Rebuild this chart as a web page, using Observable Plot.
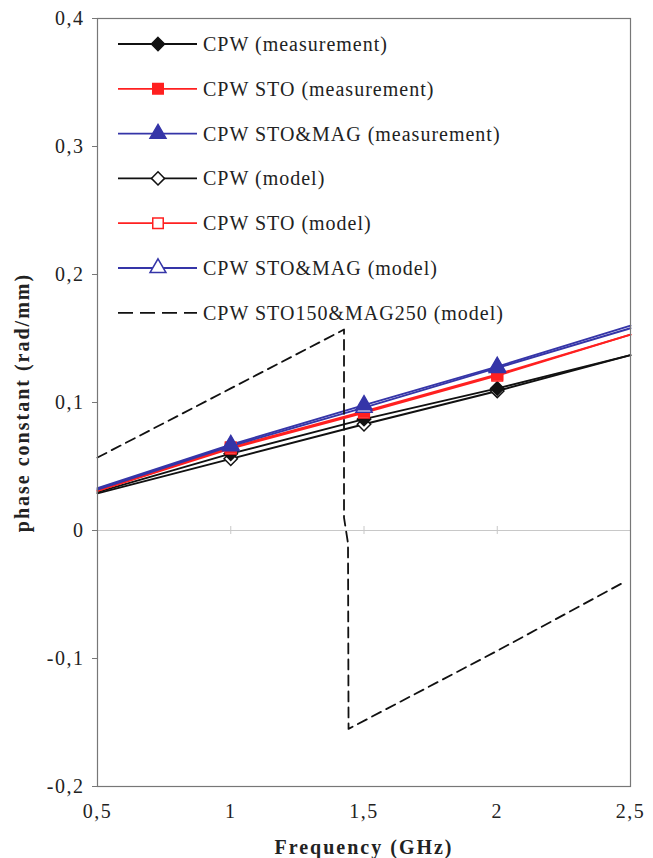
<!DOCTYPE html>
<html>
<head>
<meta charset="utf-8">
<script src="https://cdn.jsdelivr.net/npm/d3@7"></script>
<script src="https://cdn.jsdelivr.net/npm/@observablehq/plot@0.6"></script>
<style>
  html, body { margin: 0; padding: 0; background: #fff; }
  #wrap { position: relative; width: 653px; height: 858px; }
  #legend { position: absolute; left: 0; top: 0; pointer-events: none; }
</style>
</head>
<body>
<div id="wrap"></div>
<script>
// ---- data ----
const freq = [0.5, 1, 1.5, 2, 2.5];
const markerFreq = [1, 1.5, 2];

const cpwMeas       = [0.030, 0.060, 0.087, 0.111, 0.137];
const cpwStoMeas    = [0.031, 0.065, 0.093, 0.122, 0.153];
const cpwStoMagMeas = [0.033, 0.067, 0.098, 0.128, 0.160];
const cpwModel      = [0.029, 0.056, 0.083, 0.109, 0.137];
const cpwStoModel   = [0.031, 0.064, 0.092, 0.121, 0.153];
const cpwStoMagModel= [0.032, 0.066, 0.096, 0.127, 0.158];

const dashFreq = [0.5, 1.0, 1.425, 1.425, 1.44, 1.442, 2.0, 2.47];
const dashVal  = [0.057, 0.111, 0.157, 0.010, -0.010, -0.155, -0.094, -0.041];

const seriesNames = [
  "CPW (measurement)",
  "CPW STO (measurement)",
  "CPW STO&MAG (measurement)",
  "CPW (model)",
  "CPW STO (model)",
  "CPW STO&MAG (model)",
  "CPW STO150&MAG250 (model)"
];
const yTicks = [-0.2, -0.1, 0, 0.1, 0.2, 0.3, 0.4];
const xTicks = [0.5, 1, 1.5, 2, 2.5];

// ---- styles ----
const BLACK = "#111", RED = "#ff2020", BLUE = "#3535a8";
const styles = [
  {stroke: BLACK, symbol: "diamond2", fill: BLACK},
  {stroke: RED,   symbol: "square",   fill: RED},
  {stroke: BLUE,  symbol: "triangle", fill: BLUE},
  {stroke: BLACK, symbol: "diamond2", fill: "white"},
  {stroke: RED,   symbol: "square",   fill: "white"},
  {stroke: BLUE,  symbol: "triangle", fill: "white"},
  {stroke: BLACK, dash: "15,7"}
];
const seriesVals = [cpwMeas, cpwStoMeas, cpwStoMagMeas, cpwModel, cpwStoModel, cpwStoMagModel];

const comma = d => String(d).replace(".", ",");

const marks = [
  Plot.ruleY([0], {stroke: "#c8c8c8", strokeWidth: 1}),
  Plot.ruleX(markerFreq, {y1: 0, y2: 0, insetTop: -4, insetBottom: -4, stroke: "#c8c8c8"}),
];

const drawOrder = [3, 0, 4, 1, 5, 2];
for (const i of drawOrder) {
  const rows = freq.map((f, k) => ({f, v: seriesVals[i][k]}));
  marks.push(Plot.line(rows, {x: "f", y: "v", stroke: styles[i].stroke, strokeWidth: 1.9}));
}
for (const i of drawOrder) {
  const rows = freq.map((f, k) => ({f, v: seriesVals[i][k]})).filter(d => markerFreq.includes(d.f));
  marks.push(Plot.dot(rows, {x: "f", y: "v", symbol: () => styles[i].symbol, r: 6,
    stroke: styles[i].stroke, fill: styles[i].fill, strokeWidth: 1.5}));
}
marks.push(Plot.line(dashFreq.map((f, k) => ({f, v: dashVal[k]})),
  {x: "f", y: "v", stroke: BLACK, strokeWidth: 1.8, strokeDasharray: "10,6"}));
marks.push(Plot.frame({stroke: "#777", strokeWidth: 1.2}));

const chart = Plot.plot({
  width: 653,
  height: 858,
  marginLeft: 97,
  marginRight: 23,
  marginTop: 18,
  marginBottom: 72,
  style: {fontFamily: "'Liberation Serif', 'Times New Roman', serif", fontSize: "20px", color: "#222", background: "white", overflow: "visible"},
  x: {domain: [0.5, 2.5], ticks: xTicks, tickFormat: comma, tickSize: 0, tickPadding: 17,
      label: "Frequency (GHz)", labelAnchor: "center", labelArrow: "none", labelOffset: 67},
  y: {domain: [-0.2, 0.4], ticks: yTicks, tickFormat: comma, tickSize: 5, tickPadding: 8,
      label: "phase constant (rad/mm)", labelAnchor: "center", labelArrow: "none", labelOffset: 83},
  symbol: {type: "identity"},
  marks
});

d3.select(chart).selectAll("[aria-label='x-axis tick label'] text, [aria-label='y-axis tick label'] text")
  .style("letter-spacing", "1.5px");
d3.select(chart).selectAll("[aria-label='x-axis label'] text, [aria-label='y-axis label'] text")
  .style("font-weight", "bold").style("letter-spacing", "2px").style("font-size", "20px");
d3.select(chart).selectAll("[aria-label='y-axis tick'] path").attr("stroke", "#777");

document.getElementById("wrap").appendChild(chart);

// ---- legend inside plot area (overlay) ----
const lg = d3.select("#wrap").append("svg").attr("id", "legend")
  .attr("width", 653).attr("height", 858);
const sym = {
  diamond2: d3.symbol(d3.symbolDiamond2, 110),
  square: d3.symbol(d3.symbolSquare, 110),
  triangle: d3.symbol(d3.symbolTriangle, 110)
};
seriesNames.forEach((name, i) => {
  const y = 44 + i * 44.8;
  const g = lg.append("g").attr("transform", `translate(0,${y})`);
  const s = styles[i];
  g.append("line").attr("x1", 118).attr("x2", 197).attr("y1", 0).attr("y2", 0)
    .attr("stroke", s.stroke).attr("stroke-width", 1.8)
    .attr("stroke-dasharray", s.dash || null);
  if (s.symbol) {
    g.append("path").attr("d", sym[s.symbol]()).attr("transform", "translate(158,0)")
      .attr("fill", s.fill).attr("stroke", s.stroke).attr("stroke-width", 1.5);
  }
  g.append("text").attr("x", 203).attr("y", 0).attr("dy", "0.35em")
    .attr("font-family", "'Liberation Serif', 'Times New Roman', serif")
    .attr("font-size", 20).attr("letter-spacing", "1px").attr("fill", "#222")
    .text(name);
});
</script>
</body>
</html>
